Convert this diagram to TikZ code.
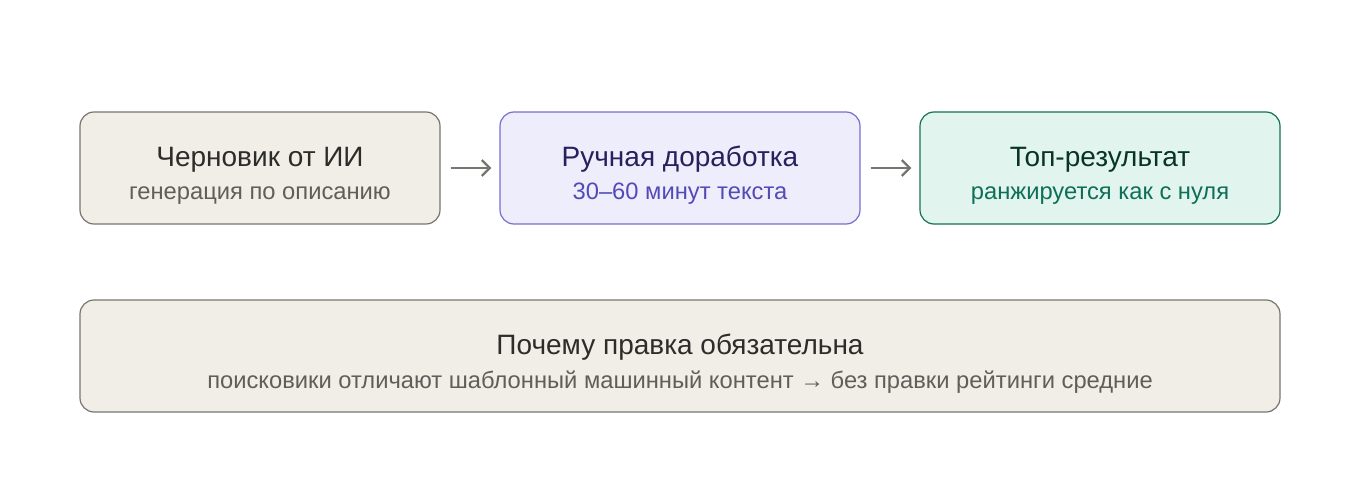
\documentclass[tikz,border=0pt]{standalone}
\usepackage{fontspec}
\setmainfont{Liberation Sans}
\usepackage{xcolor}
\definecolor{sand}{RGB}{241,238,231}
\definecolor{sandline}{RGB}{120,117,110}
\definecolor{sandtext}{RGB}{44,44,42}
\definecolor{sandsub}{RGB}{95,94,90}
\definecolor{lilac}{RGB}{238,237,252}
\definecolor{lilacline}{RGB}{120,108,208}
\definecolor{lilactext}{RGB}{38,33,92}
\definecolor{lilacsub}{RGB}{83,74,183}
\definecolor{mint}{RGB}{225,245,238}
\definecolor{mintline}{RGB}{22,112,82}
\definecolor{minttext}{RGB}{8,52,40}
\definecolor{mintsub}{RGB}{15,110,86}
\definecolor{arrowgray}{RGB}{118,117,112}
\usepackage{tikz}
\usetikzlibrary{arrows.meta, positioning}

\begin{document}
\begin{tikzpicture}[x=0.75pt, y=-0.75pt,
        card/.style={rectangle, rounded corners=10.5pt, draw=#1line, fill=#1, line width=0.9pt, minimum width=270pt, minimum height=84pt, inner sep=0pt},
        ttl/.style={anchor=base, text=#1, font=\fontsize{21}{24}\selectfont},
        sub/.style={anchor=base, text=#1, font=\fontsize{17.8}{20}\selectfont},
        flow/.style={-{Straight Barb[length=6pt, width=12pt]}, line width=1.7pt, arrowgray, shorten <=7.5pt, shorten >=6pt}
    ]
        \useasboundingbox (0,0) rectangle (1360,492);

        \node[card=sand] (draft) at (260, 168) {};
        \node[card=lilac] (edit) at (680, 168) {};
        \node[card=mint] (top) at (1100, 168) {};
        \node[card=sand, minimum width=900pt] (why) at (680, 356) {};

        \node[ttl=sandtext] (draftT) at (260, 166) {Черновик от ИИ};
        \node[sub=sandsub] (draftS) at (260, 199) {генерация по описанию};
        \node[ttl=lilactext] (editT) at (680, 166) {Ручная доработка};
        \node[sub=lilacsub] (editS) at (680, 199) {30–60 минут текста};
        \node[ttl=minttext] (topT) at (1100, 166) {Топ-результат};
        \node[sub=mintsub] (topS) at (1100, 199) {ранжируется как с нуля};
        \node[ttl=sandtext] (whyT) at (680, 354) {Почему правка обязательна};
        \node[sub=sandsub] (whyS) at (680, 388) {поисковики отличают шаблонный машинный контент → без правки рейтинги средние};

        \draw[flow] (draft) -- (edit);
        \draw[flow] (edit) -- (top);
    \end{tikzpicture}
\end{document}
